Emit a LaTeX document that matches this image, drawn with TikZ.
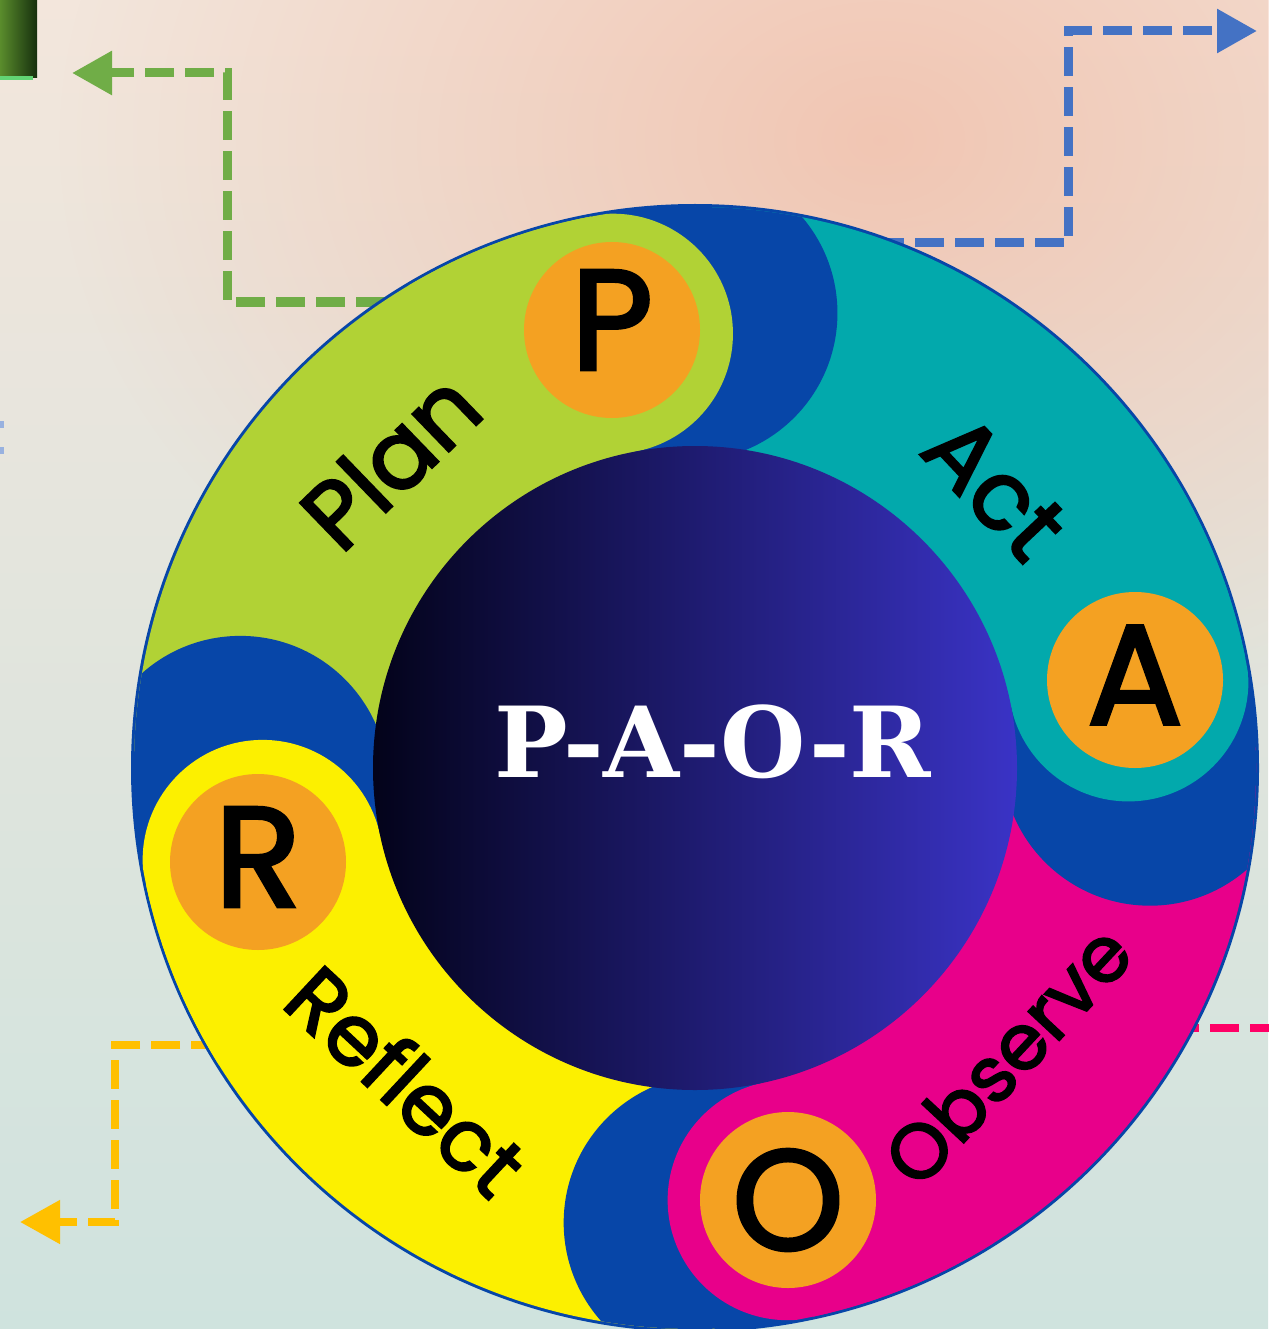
\documentclass[tikz,border=0pt]{standalone}
\usepackage{fontspec}
\newfontfamily\popfont[FakeBold=2.5]{Poppins}
\newfontfamily\slabfont{DejaVu Serif}
\usetikzlibrary{arrows.meta,fadings}
\definecolor{ringblue}{HTML}{0746A8}
\definecolor{plangreen}{HTML}{B1D235}
\definecolor{actteal}{HTML}{02A9AC}
\definecolor{obsmag}{HTML}{E8008A}
\definecolor{refyel}{HTML}{FCF000}
\definecolor{dotorange}{HTML}{F4A122}
\definecolor{coreleft}{HTML}{03031A}
\definecolor{coremid}{HTML}{18155E}
\definecolor{coreright}{HTML}{3A33C6}
\definecolor{lgreen}{HTML}{70AD47}
\definecolor{lblue}{HTML}{4472C4}
\definecolor{lorange}{HTML}{FFC000}
\definecolor{lpink}{HTML}{FF0066}
\definecolor{bgtop}{HTML}{F3E6DC}
\definecolor{bgmid}{HTML}{EEE6DE}
\definecolor{bgbot}{HTML}{CFE3DE}
\definecolor{salmon}{HTML}{F2BBA5}
\definecolor{boxlight}{HTML}{5A8C2C}
\definecolor{boxdark}{HTML}{16300E}
\definecolor{boxedge}{HTML}{62D474}
\tikzfading[name=blobfade, inner color=transparent!25, outer color=transparent!100]
\begin{document}
\begin{tikzpicture}[x=1pt,y=1pt,
  dashline/.style={line width=9pt, dash pattern=on 29pt off 11pt},
  tiphead/.style={-{Triangle[length=40pt,width=42pt]}},
  bandlabel/.style={font=\popfont\fontsize{95}{100}\selectfont, text=black, inner sep=0pt},
  dot/.style={circle, fill=dotorange, minimum size=176pt, inner sep=0pt},
  dotletter/.style={font=\popfont\fontsize{142}{142}\selectfont, text=black, inner sep=0pt}
]
\useasboundingbox (0,0) rectangle (1268,-1329);
% background
\shade[top color=bgtop, middle color=bgmid, bottom color=bgbot] (0,0) rectangle (1268,-1329);
\fill[salmon, path fading=blobfade] (880,-140) ellipse [x radius=820, y radius=620];

% partial box at top-left
\node[minimum width=37pt, minimum height=78pt, inner sep=0pt, left color=boxlight, right color=boxdark] (gbox) at (18.5,-39) {};
\draw[boxedge, line width=4pt] (gbox.south west) -- ([xshift=-4pt]gbox.south east);

% faint marks at left edge
\draw[lblue!55, line width=4pt, dash pattern=on 7pt off 19pt] (1.5,-421) -- (1.5,-465);

% connectors
\coordinate (gA) at (385,-302);
\coordinate (gB) at (227,-73);
\coordinate (gTip) at (72,-73);
\draw[lgreen, dashline, tiphead] (gA) -| (gB) -- (gTip);

\coordinate (bA) at (875,-243);
\coordinate (bB) at (1068,-31);
\coordinate (bTip) at (1257,-31);
\draw[lblue, dashline, tiphead] (bA) -| (bB) -- (bTip);

\coordinate (oA) at (220,-1045);
\coordinate (oB) at (115,-1222);
\coordinate (oTip) at (20,-1222);
\draw[lorange, dashline, line width=8pt, tiphead] (oA) -| (oB) -- (oTip);

\coordinate (pA) at (1170,-1028);
\coordinate (pEnd) at (1275,-1028);
\draw[lpink, dashline, line width=8pt] (pA) -- (pEnd);

% wheel
\begin{scope}[shift={(695,-768)}]
  \fill[ringblue] (0,0) circle (564);
  \begin{scope}
    \clip (0,0) circle (561);
    \foreach \h/\col in {100.7/plangreen, 11.3/actteal, -77.9/obsmag, 192/refyel}{
      \fill[\col] (\h:300) arc[start angle=\h, end angle=\h+80, radius=300]
        -- (\h+80:600) arc[start angle=\h+80, end angle=\h, radius=600] -- cycle;
    }
    \foreach \h in {100.7, 11.3, -77.9, 192}{
      \fill[ringblue] (\h-10:455) circle (148);
    }
    \foreach \h/\col in {100.7/plangreen, 11.3/actteal, -77.9/obsmag, 192/refyel}{
      \fill[\col] (\h:442) circle (120);
      \fill[\col] (\h:300) arc[start angle=\h, end angle=\h+20, radius=300]
        -- (\h+20:600) arc[start angle=\h+20, end angle=\h, radius=600] -- cycle;
    }
  \end{scope}
\end{scope}

% letter dots
\node[dot] (pdot) at (612,-330) {};
\node[dot] (adot) at (1135,-680) {};
\node[dot] (odot) at (788,-1200) {};
\node[dot] (rdot) at (258,-862) {};
\node[dotletter] (pletter) at ([yshift=10pt]pdot.center) {P};
\node[dotletter] (aletter) at ([yshift=5pt]adot.center) {A};
\node[dotletter] (oletter) at (odot.center) {O};
\node[dotletter] (rletter) at ([yshift=5pt]rdot.center) {R};

% core
\node[circle, minimum size=644pt, inner sep=0pt, shading=axis, left color=coreleft, middle color=coremid, right color=coreright] (core) at (695,-768) {};
\node[text=white, inner sep=0pt, font=\slabfont\bfseries\fontsize{98}{98}\selectfont] (title) at (713,-742) {P-A-O-R};

% band labels
\node[bandlabel, rotate=44] (plan) at (390,-460) {Plan};
\node[bandlabel, rotate=-46.7] (act) at (995,-487) {Act};
\node[bandlabel, rotate=47, font=\popfont\fontsize{77}{80}\selectfont] (observe) at (1007,-1055) {Observe};
\node[bandlabel, rotate=-43, font=\popfont\fontsize{85}{90}\selectfont] (reflect) at (407,-1080) {Reflect};
\end{tikzpicture}
\end{document}
